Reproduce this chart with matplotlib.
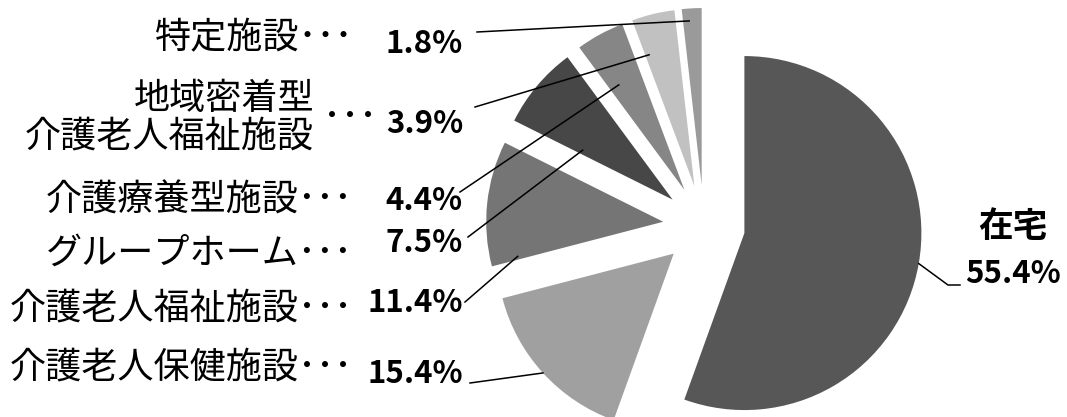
import numpy as np
import matplotlib
matplotlib.use('Agg')
import matplotlib.pyplot as plt

plt.rcParams['font.family'] = ['Noto Sans CJK JP', 'DejaVu Sans']

categories = ['在宅', '介護老人保健施設', '介護老人福祉施設', 'グループホーム',
              '介護療養型施設', '地域密着型\n介護老人福祉施設', '特定施設']
shares = [55.4, 15.4, 11.4, 7.5, 4.4, 3.9, 1.8]
colors = ['#575757', '#a0a0a0', '#757575', '#474747', '#868686', '#c1c1c1', '#9a9a9a']

W, H = 1067, 417
fig = plt.figure(figsize=(W / 100, H / 100), dpi=100)
ax = fig.add_axes([0, 0, 1, 1])

wedges, _ = ax.pie(shares, colors=colors, startangle=90, counterclock=False,
                   radius=177, center=(704, H - 226), explode=[41] * len(shares),
                   wedgeprops=dict(linewidth=0))
ax.set_xlim(0, W)
ax.set_ylim(0, H)
ax.set_aspect('auto')
ax.axis('off')


def anchor(w, frac, rfrac):
    # point inside a wedge: frac along the arc (clockwise), rfrac of radius
    t = np.deg2rad(w.theta2 - frac * (w.theta2 - w.theta1))
    cx, cy = w.center
    return cx + rfrac * w.r * np.cos(t), cy + rfrac * w.r * np.sin(t)


# layout in pixels from the top-left: name y, percent baseline y, line start, anchor
name_y = [None, 368, 309, 254, 201, 118, 38]
pct_base = [283, 383, 312, 252, 210, 133, 53]
line_start = [(960, 285), (470, 383), (465, 302), (468, 237), (460, 192), (475, 107), (477, 32)]
anchor_pos = [(0.5, 1.0), (0.5, 1.0), (0.03, 0.845), (0.085, 0.58), (0.28, 0.70), (0.11, 0.785), (0.33, 0.93)]

name_kw = dict(fontsize=26, color='black')
pct_kw = dict(fontsize=22.5, fontweight='bold', color='black')

for i, name in enumerate(categories):
    pct = f'{shares[i]}%'
    ax_, ay_ = anchor(wedges[i], *anchor_pos[i])
    sx, sy = line_start[i]
    if i == 0:
        ax.text(1013, H - 226, name, ha='center', va='center', fontsize=25, fontweight='bold')
        ax.text(1013, H - pct_base[i], pct, ha='center', va='baseline', **pct_kw)
        ax.plot([sx, 948, ax_], [H - sy, H - sy, ay_], color='black', lw=1.1)
        continue
    if '\n' in name:
        ax.text(314, H - name_y[i], name, ha='right', va='center', multialignment='right',
                linespacing=1.05, **name_kw)
        ax.text(323, H - name_y[i], '･･･', ha='left', va='center', **name_kw)
    else:
        ax.text(353, H - name_y[i], name + '･･･', ha='right', va='center', **name_kw)
    ax.text(463, H - pct_base[i], pct, ha='right', va='baseline', **pct_kw)
    ax.plot([sx, ax_], [H - sy, ay_], color='black', lw=1.1)

fig.savefig('out.png', dpi=100)
